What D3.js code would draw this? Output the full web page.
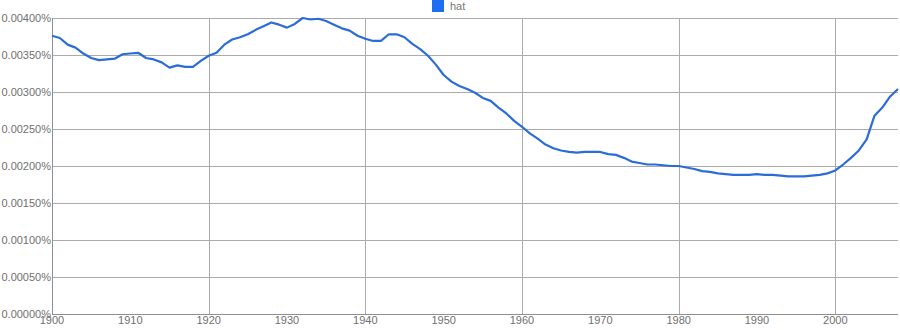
<!DOCTYPE html>
<html>
<head>
<meta charset="utf-8">
<script src="https://cdn.jsdelivr.net/npm/d3@7"></script>
<style>
  body { margin: 0; background: #fff; }
  svg { display: block; font-family: Arial, "Liberation Sans", Helvetica, sans-serif; }
</style>
</head>
<body>
<svg id="chart" width="900" height="330"></svg>
<script>
// data (percent of all words)
const years = d3.range(1900, 2009)

const hat = [
  0.00376, 0.00373, 0.00364, 0.00360, 0.00352, 0.00346, 0.00343, 0.00344, 0.00345, 0.00351,
  0.00352, 0.00353, 0.00346, 0.00344, 0.00340, 0.00333, 0.00336, 0.00334, 0.00334, 0.00342,
  0.00349, 0.00353, 0.00364, 0.00371, 0.00374, 0.00378, 0.00384, 0.00389, 0.00394, 0.00391,
  0.00387, 0.00392, 0.00400, 0.00398, 0.00399, 0.00396, 0.00391, 0.00386, 0.00383, 0.00376,
  0.00372, 0.00369, 0.00369, 0.00378, 0.00378, 0.00374, 0.00365, 0.00358, 0.00349, 0.00337,
  0.00323, 0.00314, 0.00308, 0.00304, 0.00299, 0.00292, 0.00288, 0.00279, 0.00271, 0.00261,
  0.00253, 0.00244, 0.00237, 0.00229, 0.00224, 0.00221, 0.00219, 0.00218, 0.00219, 0.00219,
  0.00219, 0.00216, 0.00215, 0.00211, 0.00206, 0.00204, 0.00202, 0.00202, 0.00201, 0.00200,
  0.00200, 0.00198, 0.00196, 0.00193, 0.00192, 0.00190, 0.00189, 0.00188, 0.00188, 0.00188,
  0.00189, 0.00188, 0.00188, 0.00187, 0.00186, 0.00186, 0.00186, 0.00187, 0.00188, 0.00190,
  0.00194, 0.00202, 0.00211, 0.00221, 0.00236, 0.00268, 0.00279, 0.00294, 0.00304
]

const yTicks = [0, 0.0005, 0.001, 0.0015, 0.002, 0.0025, 0.003, 0.0035, 0.004]
const xTicks = d3.range(1900, 2001, 10)
const xGrid = [1920, 1940, 1960, 1980, 2000]

const margin = { top: 18, right: 2, bottom: 16, left: 52 }
const width = 900, height = 330

const svg = d3.select('#chart')

const x = d3.scaleLinear()
    .domain([1900, 2008])
    .range([margin.left, width - margin.right])

const y = d3.scaleLinear()
    .domain([0, 0.004])
    .range([height - margin.bottom, margin.top])

// horizontal grid
svg.append('g')
    .selectAll('line')
    .data(yTicks.slice(1))
    .enter().append('line')
    .attr('x1', margin.left)
    .attr('x2', width - margin.right)
    .attr('y1', d => Math.round(y(d)) + 0.5)
    .attr('y2', d => Math.round(y(d)) + 0.5)
    .attr('stroke', '#ababab')
    .attr('stroke-width', 1)

// vertical grid
svg.append('g')
    .selectAll('line')
    .data(xGrid)
    .enter().append('line')
    .attr('x1', d => Math.round(x(d)) + 0.5)
    .attr('x2', d => Math.round(x(d)) + 0.5)
    .attr('y1', margin.top)
    .attr('y2', height - margin.bottom)
    .attr('stroke', '#ababab')
    .attr('stroke-width', 1)

// axes lines
svg.append('line')
    .attr('x1', margin.left + 0.5).attr('x2', margin.left + 0.5)
    .attr('y1', margin.top).attr('y2', Math.round(y(0)) + 0.5)
    .attr('stroke', '#8f8f8f')
svg.append('line')
    .attr('x1', margin.left).attr('x2', width - margin.right)
    .attr('y1', Math.round(y(0)) + 0.5).attr('y2', Math.round(y(0)) + 0.5)
    .attr('stroke', '#8f8f8f')

// y labels (values are already percentages)
svg.append('g')
    .selectAll('text')
    .data(yTicks)
    .enter().append('text')
    .attr('x', margin.left - 1)
    .attr('y', d => y(d))
    .attr('dy', '0.35em')
    .attr('text-anchor', 'end')
    .attr('font-size', 11)
    .attr('fill', '#6f6f6f')
    .text(d => d3.format('.5f')(d) + '%')

// x labels
svg.append('g')
    .selectAll('text')
    .data(xTicks)
    .enter().append('text')
    .attr('x', d => x(d))
    .attr('y', y(0) + 10)
    .attr('text-anchor', 'middle')
    .attr('font-size', 11)
    .attr('fill', '#6f6f6f')
    .text(d => d)

// line
const line = d3.line()
    .x((d, i) => x(years[i]))
    .y(d => y(d))

svg.append('path')
    .datum(hat)
    .attr('fill', 'none')
    .attr('stroke', '#2b6cd9')
    .attr('stroke-width', 2.2)
    .attr('stroke-linejoin', 'round')
    .attr('d', line)

// legend
svg.append('rect')
    .attr('x', 432).attr('y', 0)
    .attr('width', 12).attr('height', 12)
    .attr('fill', '#1f6ef2')
svg.append('text')
    .attr('x', 450).attr('y', 6)
    .attr('dy', '0.35em')
    .attr('font-size', 11)
    .attr('fill', '#777')
    .text('hat')
</script>
</body>
</html>
